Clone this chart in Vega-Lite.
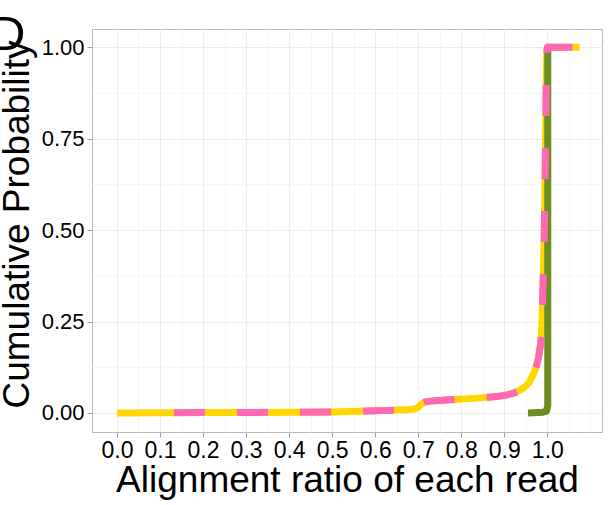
{
  "$schema": "https://vega.github.io/schema/vega-lite/v6.json",
  "autosize": {"type": "none"},
  "padding": {"left": 92, "top": 29, "right": 13, "bottom": 73},
  "width": 510,
  "height": 403,
  "background": "white",
  "title": {"text": "D", "font": "Liberation Sans", "fontSize": 49, "fontWeight": "normal", "color": "black", "anchor": "start", "frame": "group", "dx": -102, "dy": 70, "baseline": "alphabetic", "offset": 0},
  "config": {
    "view": {"stroke": "#b8b8b8", "strokeWidth": 1},
    "axis": {"labelFont": "Liberation Sans", "titleFont": "Liberation Sans", "labelColor": "black", "titleColor": "black", "labelFontSize": 22, "titleFontSize": 37, "titleFontWeight": "normal", "domain": false, "tickColor": "#9e9e9e", "tickSize": 5}
  },
  "datasets": {
    "ab": [
      {"i": 1, "x": 0.0, "y": 0.0},
      {"i": 2, "x": 0.1, "y": 0.0005},
      {"i": 3, "x": 0.2, "y": 0.001},
      {"i": 4, "x": 0.3, "y": 0.0015},
      {"i": 5, "x": 0.4, "y": 0.002},
      {"i": 6, "x": 0.5, "y": 0.003},
      {"i": 7, "x": 0.6, "y": 0.006},
      {"i": 8, "x": 0.65, "y": 0.008},
      {"i": 9, "x": 0.69, "y": 0.011},
      {"i": 10, "x": 0.7, "y": 0.016},
      {"i": 11, "x": 0.71, "y": 0.027},
      {"i": 12, "x": 0.72, "y": 0.031},
      {"i": 13, "x": 0.75, "y": 0.034},
      {"i": 14, "x": 0.8, "y": 0.038},
      {"i": 15, "x": 0.85, "y": 0.042},
      {"i": 16, "x": 0.9, "y": 0.048},
      {"i": 17, "x": 0.92, "y": 0.054},
      {"i": 18, "x": 0.94, "y": 0.065},
      {"i": 19, "x": 0.955, "y": 0.08},
      {"i": 20, "x": 0.965, "y": 0.1},
      {"i": 21, "x": 0.975, "y": 0.13},
      {"i": 22, "x": 0.982, "y": 0.17},
      {"i": 23, "x": 0.987, "y": 0.23},
      {"i": 24, "x": 0.99, "y": 0.35},
      {"i": 25, "x": 0.993, "y": 0.5},
      {"i": 26, "x": 0.996, "y": 0.75},
      {"i": 27, "x": 0.998, "y": 0.95},
      {"i": 28, "x": 1.0, "y": 1.0},
      {"i": 29, "x": 1.075, "y": 1.0}
    ],
    "g": [
      {"i": 1, "x": 0.955, "y": 0.0},
      {"i": 2, "x": 0.99, "y": 0.002},
      {"i": 3, "x": 0.998, "y": 0.005},
      {"i": 4, "x": 1.001, "y": 0.02},
      {"i": 5, "x": 1.001, "y": 1.0}
    ]
  },
  "encoding": {
    "x": {
      "field": "x", "type": "quantitative",
      "scale": {"domain": [-0.058, 1.127], "nice": false, "zero": false},
      "axis": {
        "title": "Alignment ratio of each read",
        "values": [0, 0.05, 0.1, 0.15, 0.2, 0.25, 0.3, 0.35, 0.4, 0.45, 0.5, 0.55, 0.6, 0.65, 0.7, 0.75, 0.8, 0.85, 0.9, 0.95, 1.0, 1.05, 1.1],
        "labelExpr": "(abs(datum.value*10 - round(datum.value*10)) > 0.01 || datum.value > 1.05) ? '' : format(datum.value, '.1f')",
        "gridColor": {"condition": {"test": "abs(datum.value*10 - round(datum.value*10)) > 0.01 || datum.value > 1.05", "value": "#f6f6f6"}, "value": "#ececec"},
        "tickOpacity": {"condition": {"test": "abs(datum.value*10 - round(datum.value*10)) > 0.01 || datum.value > 1.05", "value": 0}, "value": 1},
        "labelFontSize": 23,
        "labelPadding": 2,
        "labelFlush": false,
        "labelOverlap": false,
        "titleX": 255, "titleY": 59, "titleBaseline": "alphabetic", "titleAlign": "center"
      }
    },
    "y": {
      "field": "y", "type": "quantitative",
      "scale": {"domain": [-0.052, 1.05], "nice": false, "zero": false},
      "axis": {
        "title": "Cumulative Probability",
        "values": [0, 0.125, 0.25, 0.375, 0.5, 0.625, 0.75, 0.875, 1.0],
        "labelExpr": "abs(datum.value*4 - round(datum.value*4)) > 0.01 ? '' : format(datum.value, '.2f')",
        "gridColor": {"condition": {"test": "abs(datum.value*4 - round(datum.value*4)) > 0.01", "value": "#f6f6f6"}, "value": "#ececec"},
        "tickOpacity": {"condition": {"test": "abs(datum.value*4 - round(datum.value*4)) > 0.01", "value": 0}, "value": 1},
        "labelPadding": 3,
        "labelOverlap": false,
        "titleX": -64, "titleY": 195, "titleAngle": -90, "titleBaseline": "alphabetic", "titleAlign": "center"
      }
    },
    "order": {"field": "i", "type": "quantitative"}
  },
  "layer": [
    {"data": {"name": "ab"}, "mark": {"type": "line", "color": "#FFD700", "strokeWidth": 7, "strokeCap": "butt", "strokeJoin": "round", "interpolate": "monotone"}},
    {"data": {"name": "g"}, "mark": {"type": "line", "color": "#6B8E23", "strokeWidth": 7, "strokeCap": "butt", "strokeJoin": "round"}},
    {"data": {"name": "ab"}, "mark": {"type": "line", "color": "#FF69B4", "strokeWidth": 7, "strokeCap": "butt", "strokeJoin": "round", "interpolate": "monotone", "strokeDash": [0, 57, 31, 32, 31, 32, 31, 32, 31, 32, 31, 32, 31, 32, 31, 32, 31, 32, 31, 32, 31, 32, 31, 32, 31, 32, 31, 32, 31, 32, 31, 32, 31, 32]}}
  ]
}
